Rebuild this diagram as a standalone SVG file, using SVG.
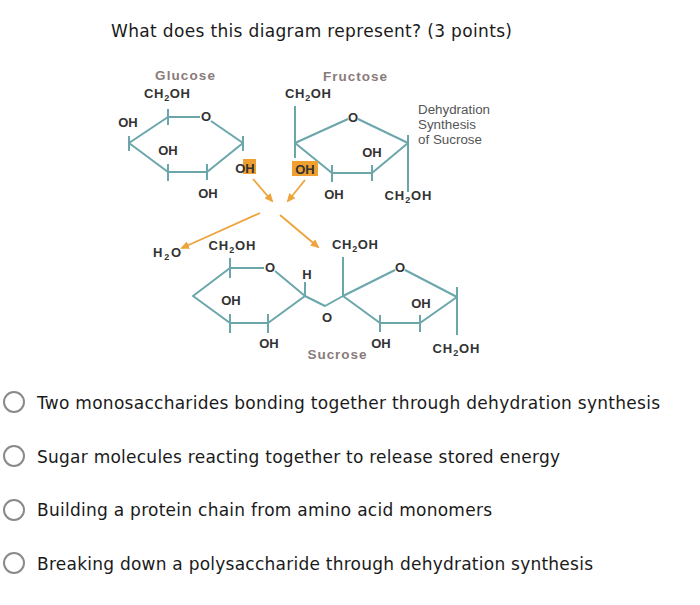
<svg xmlns="http://www.w3.org/2000/svg" width="700" height="605" viewBox="0 0 700 605">
<defs>
<style>
.q{font-family:"DejaVu Sans",Verdana,sans-serif;font-size:17px;fill:#1a1a1a}
.l{font-family:"Liberation Sans",Arial,sans-serif;font-weight:bold;font-size:13px;fill:#333;text-anchor:middle}
.n{font-family:"Liberation Sans",Arial,sans-serif;font-weight:bold;font-size:13.5px;fill:#8a7b7b;text-anchor:middle}
.d{font-family:"Liberation Sans",Arial,sans-serif;font-size:12.5px;fill:#555}
.ring{fill:none;stroke:#6aa6aa;stroke-width:2;stroke-linejoin:round}
.arr{fill:none;stroke:#eea33c;stroke-width:1.8;marker-end:url(#ah)}
.hl{fill:#f0a030}
.opt{fill:#fff;stroke:#8a8a8a;stroke-width:2}
</style>
<marker id="ah" markerUnits="userSpaceOnUse" markerWidth="9" markerHeight="8" refX="7" refY="4" orient="auto">
<path d="M0,0 L9,4 L0,8 z" fill="#eea33c"/>
</marker>
</defs>
<rect width="700" height="605" fill="#fff"/>

<g id="question">
<text class="q" x="111" y="37" textLength="401">What does this diagram represent? (3 points)</text>
</g>

<g id="glucose">
<path class="ring" d="M168,117 L200,117 M211,121 L243,143 L207,172 L168,172 L129,143 L168,117"/>
<path class="ring" d="M168,109 V125 M243,136 V151 M129,136 V151 M168,164 V181 M207,164 V180"/>
<text class="n" x="185" y="80" textLength="60">Glucose</text>
<text class="l" x="167" y="98" textLength="46">CH<tspan font-size="9" dy="3">2</tspan><tspan dy="-3">OH</tspan></text>
<text class="l" x="206" y="121">O</text>
<text class="l" x="128" y="127">OH</text>
<text class="l" x="168" y="155">OH</text>
<rect class="hl" x="243" y="159" width="13" height="15"/>
<text class="l" x="245" y="173">OH</text>
<text class="l" x="208" y="198">OH</text>
</g>

<g id="fructose">
<path class="ring" d="M295,143 L348,119 M358,119 L408,143 L372,173 L332,173 L295,143"/>
<path class="ring" d="M295,106 V158 M408,135 V192 M372,165 V181 M332,165 V182"/>
<text class="n" x="355" y="81" textLength="64">Fructose</text>
<text class="l" x="308" y="98" textLength="46">CH<tspan font-size="9" dy="3">2</tspan><tspan dy="-3">OH</tspan></text>
<text class="l" x="353" y="122">O</text>
<text class="l" x="372" y="157">OH</text>
<rect class="hl" x="292" y="161" width="26" height="15"/>
<text class="l" x="305" y="174">OH</text>
<text class="l" x="334" y="199">OH</text>
<text class="l" x="408" y="200" textLength="47">CH<tspan font-size="9" dy="3">2</tspan><tspan dy="-3">OH</tspan></text>
<text class="d" x="418" y="114" textLength="72" lengthAdjust="spacingAndGlyphs">Dehydration</text>
<text class="d" x="418" y="129" textLength="58" lengthAdjust="spacingAndGlyphs">Synthesis</text>
<text class="d" x="418" y="144" textLength="64" lengthAdjust="spacingAndGlyphs">of Sucrose</text>
</g>

<g id="connectors">
<line class="arr" x1="253" y1="179" x2="272" y2="201"/>
<line class="arr" x1="305" y1="180" x2="288" y2="201"/>
<line class="arr" x1="260" y1="213" x2="182" y2="248"/>
<line class="arr" x1="280" y1="215" x2="318" y2="247"/>
</g>

<g id="h2o">
<text class="l" x="167" y="257" textLength="28">H<tspan font-size="9" dy="3">2</tspan><tspan dy="-3">O</tspan></text>
</g>

<g id="sucrose">
<path class="ring" d="M230,268 L264,268 M275,271 L305,296 L268,323 L230,323 L193,296 L230,268"/>
<path class="ring" d="M230,258 V278 M230,314 V333 M268,314 V333 M305,282 V296"/>
<path class="ring" d="M305,296 L325,306 L343,296"/>
<path class="ring" d="M343,296 L395,270 M405,270 L457,297 L420,323 L380,323 L343,296"/>
<path class="ring" d="M343,257 V296 M457,287 V335 M380,315 V332 M420,315 V332"/>
<text class="l" x="232" y="250" textLength="47">CH<tspan font-size="9" dy="3">2</tspan><tspan dy="-3">OH</tspan></text>
<text class="l" x="355" y="249" textLength="46">CH<tspan font-size="9" dy="3">2</tspan><tspan dy="-3">OH</tspan></text>
<text class="l" x="270" y="272">O</text>
<text class="l" x="307" y="279">H</text>
<text class="l" x="327" y="322">O</text>
<text class="l" x="400" y="272">O</text>
<text class="l" x="231" y="305">OH</text>
<text class="l" x="269" y="348">OH</text>
<text class="l" x="421" y="308">OH</text>
<text class="l" x="381" y="348">OH</text>
<text class="l" x="456" y="353" textLength="47">CH<tspan font-size="9" dy="3">2</tspan><tspan dy="-3">OH</tspan></text>
<text class="n" x="337" y="359" textLength="59">Sucrose</text>
</g>

<g id="options">
<circle class="opt" cx="14" cy="402" r="10"/>
<text class="q" x="37" y="409" textLength="623">Two monosaccharides bonding together through dehydration synthesis</text>
<circle class="opt" cx="14" cy="456" r="10"/>
<text class="q" x="37" y="463" textLength="523">Sugar molecules reacting together to release stored energy</text>
<circle class="opt" cx="14" cy="510" r="10"/>
<text class="q" x="37" y="516" textLength="455">Building a protein chain from amino acid monomers</text>
<circle class="opt" cx="14" cy="563" r="10"/>
<text class="q" x="37" y="570" textLength="556">Breaking down a polysaccharide through dehydration synthesis</text>
</g>
</svg>
